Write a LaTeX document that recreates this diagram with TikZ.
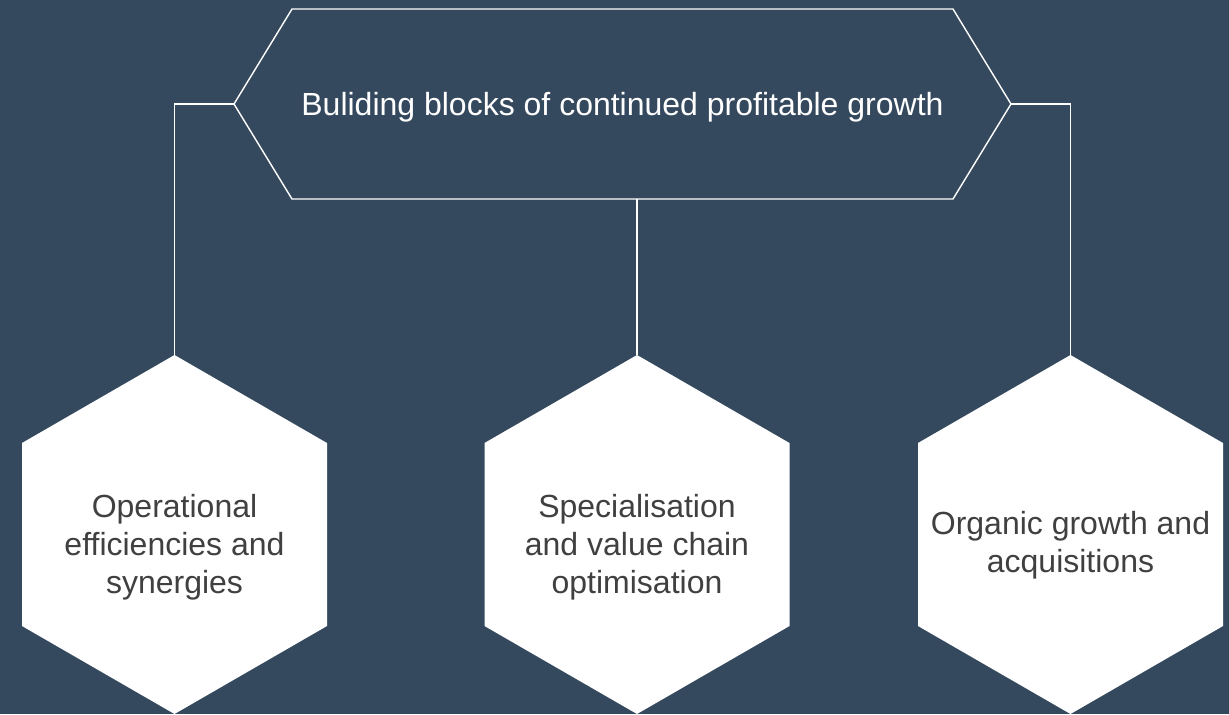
\documentclass[tikz,border=0pt]{standalone}
\usepackage{fontspec}
\setmainfont{Liberation Sans}
\usetikzlibrary{positioning}
\definecolor{slate}{RGB}{53,73,94}
\definecolor{inkgray}{RGB}{64,64,64}

\begin{document}
\begin{tikzpicture}
    [x=0.01cm,y=-0.01cm,
     every node/.style={inner sep=0pt, align=center, font=\fontsize{9.1}{10.8}\selectfont},
     link/.style={draw=white, line width=0.4pt},
     hexfill/.style={fill=white}]
  \fill[slate] (0,0) rectangle (1229,714);
  \useasboundingbox (0,0) rectangle (1229,714);

  % title banner
  \coordinate (top-w) at (234,104);
  \coordinate (top-e) at (1011,104);
  \coordinate (top-s) at (637,199);
  \draw[link] (top-w) -- (292,9) -- (953,9) -- (top-e) -- (953,199) -- (292,199) -- cycle;
  \node[text=white] (title) at (622.5,107) {Buliding blocks of continued profitable growth};

  % building blocks
  \foreach \name/\cx/\cy/\txt in {ops/174.5/547/{Operational\\efficiencies and\\synergies},
                                  spec/637/547/{Specialisation\\and value chain\\optimisation},
                                  org/1070.5/545/{Organic growth and\\acquisitions}}{
    \coordinate (\name-n) at (\cx,355);
    \fill[hexfill] (\name-n) -- ++(152.5,88) -- ++(0,183) -- ++(-152.5,88)
      -- ++(-152.5,-88) -- ++(0,-183) -- cycle;
    \node[text=inkgray] (\name) at (\cx,\cy) {\txt};
  }

  \draw[link] (top-w) -| (ops-n);
  \draw[link] (top-e) -| (org-n);
  \draw[link] (top-s) -- (spec-n);
\end{tikzpicture}
\end{document}
